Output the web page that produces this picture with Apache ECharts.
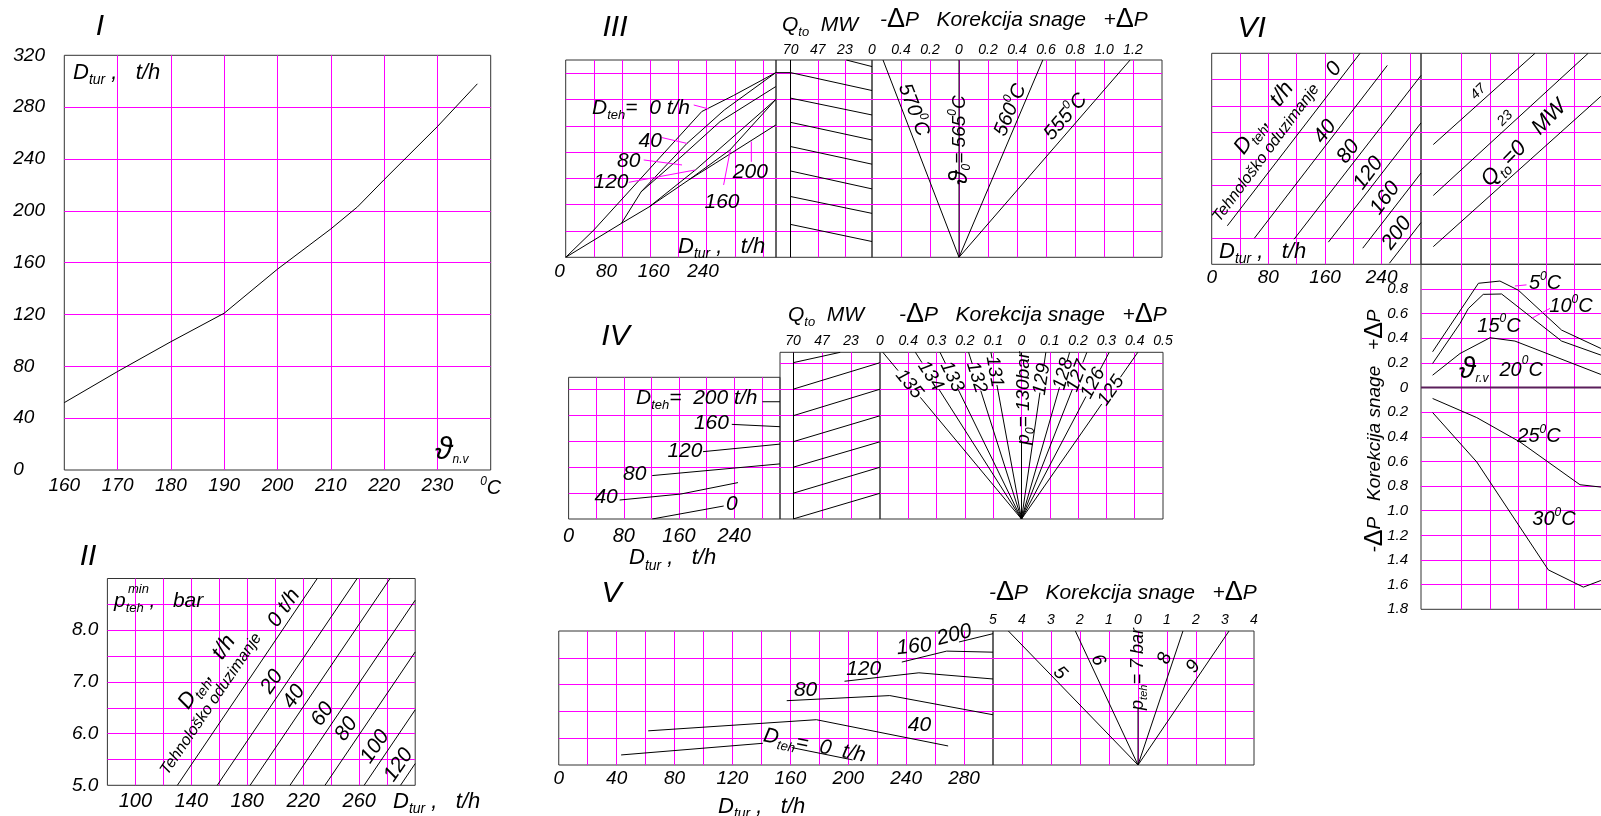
<!DOCTYPE html>
<html>
<head>
<meta charset="utf-8">
<script src="https://cdn.jsdelivr.net/npm/echarts@6/dist/echarts.min.js"></script>
<style>html,body{margin:0;padding:0;background:#fff}#main{width:1601px;height:816px}</style>
</head>
<body>
<div id="main"></div>
<script>
// ---- I : D_tur vs feed water temperature
var tempNV = [160, 170, 180, 190, 200, 210, 215, 220, 230, 237.5];
var flowTur = [52, 76, 99, 121, 155, 186, 203, 224, 265, 298];

// ---- II : p_teh min vs D_tur
var tehII = ['0 t/h', '20', '40', '60', '80', '100', '120'];
var iiStartX = [130, 158.5, 182, 210.5, 235.5, 263.5, 289.5];
var iiEndX = [230, 258.5, 282, 300, 300, 300, 300];
var iiEndP = [9, 9, 9, 8.58, 7.58, 6.46, 5.42];

// ---- III
var iiiTeh0 = [[0, 0], [40, 1.04], [193, 5.54], [238, 6.15], [298, 7.02]];
var iiiTeh40 = [[107, 2.49], [172, 4.33], [225, 5.6], [298, 7.02]];
var iiiTeh80 = [[79, 1.29], [107, 2.49], [165, 3.85], [219, 5.16], [298, 6.49]];
var iiiTeh120 = [[118.6, 1.92], [184, 3.32], [298, 6.0]];
var iiiTeh160 = [[174.5, 2.94], [233, 4.08], [298, 6.0]];
var iiiTeh200 = [[0, 0], [79, 1.29], [118.6, 1.92], [174.5, 2.94], [212, 3.57], [298, 5.03]];
var iiiQStart = [7.02, 6.05, 5.13, 4.21, 3.28, 2.31, 1.25];
var iiiQEnd = [6.34, 5.41, 4.46, 3.54, 2.6, 1.67, 0.6];
var iiiTemp = [570, 565, 560, 555];
var iiiTopDP = [-0.524, 0, 0.578, 1.18];

// ---- IV
var ivTeh0 = [[121.2, 0], [224.8, 0.5]];
var ivTeh40 = [[73.9, 0.73], [162.6, 0.96], [245.5, 1.4]];
var ivTeh80 = [[121.2, 1.67], [306.4, 2.12]];
var ivTeh120 = [[194.8, 2.59], [306.4, 2.88]];
var ivTeh160 = [[236.5, 3.64], [306.4, 3.55]];
var ivTeh200 = [[280.9, 4.51], [306.4, 4.51]];
var ivQStart = [0, 0.99, 1.99, 2.97, 3.97, 4.99];
var ivQEnd = [0.99, 1.99, 2.97, 3.97, 4.99, 6.01];
var ivPress = [135, 134, 133, 132, 131, 129, 128, 127, 126, 125];
var ivTopDP = [-0.49, -0.375, -0.288, -0.187, -0.108, 0.086, 0.17, 0.231, 0.31, 0.411];
var ivLabelAt = [0.81, 0.858, 0.854, 0.85, 0.884, 0.838, 0.87, 0.858, 0.815, 0.77];
var IV_TOP = 6.41;

// ---- V
var vTeh0a = [[43.1, 0.375], [141, 0.81]];
var vTeh0b = [[161, 0.65], [203, 0.19]];
var vTeh40 = [[61.8, 1.275], [178, 1.69], [269, 0.71]];
var vTeh80 = [[157.5, 2.4], [228.7, 2.59], [300, 1.875]];
var vTeh120 = [[197.4, 3.125], [248.8, 3.44], [300, 3.21]];
var vTeh160 = [[237, 3.84], [268, 4.25], [300, 4.21]];
var vTeh200 = [[276.5, 4.59], [300, 4.9]];
var vPress = [5, 6, 8, 9];
var vTopDP = [-4.47, -2.16, 1.55, 3.14];
var v7Top = 2.13;

// ---- VI
var viStart = [[22.1, 1.46], [60.3, 0.99], [116.3, 0.95], [164.8, 0.84], [213.3, 0.61], [251, 0.04]];
var viEnd = [[209.5, 8.0], [248, 7.54], [295.6, 7.16], [295.6, 5.36], [295.6, 3.46], [295.6, 1.58]];
var viQStart = [[0.435, 4.54], [0.435, 2.61], [0.435, 0.67]];
var viQEnd = [[4.03, 8.0], [5.91, 8.0], [6.36, 6.37]];
var viGridX = [0.435, 1.435, 2.435, 3.435, 4.435, 5.435, 6.435];
var vi5 = [[0.41, 0.29], [2.03, 0.846], [2.79, 0.864], [3.44, 0.79], [4.97, 0.466], [6.36, 0.317]];
var vi10 = [[0.41, 0.195], [1.38, 0.52], [1.67, 0.64], [2.2, 0.756], [2.85, 0.759], [4.97, 0.377], [6.36, 0.263]];
var vi15 = [[0.41, 0.1], [1.38, 0.276], [2.44, 0.404], [3.32, 0.377], [6.36, 0.106]];
var vi20 = [[0, 0], [7.07, 0]];
var vi25 = [[0.41, -0.089], [1.97, -0.244], [3.5, -0.442], [5.62, -0.789], [6.36, -0.808]];
var vi30 = [[0.41, -0.203], [1.97, -0.604], [4.5, -1.48], [5.74, -1.62], [6.36, -1.566]];

var FONT = '"Liberation Sans", Arial, sans-serif';
var MAG = '#ff00ff';

function grid(l, t, w, h) {
	return {left: l, top: t, width: w, height: h, show: true, borderColor: '#333', borderWidth: 1,
		backgroundColor: 'transparent', containLabel: false, outerBoundsMode: 'none'};
}
function ax(gi, min, max, interval, o) {
	o = o || {};
	var a = {type: 'value', gridIndex: gi, min: min, max: max, interval: interval,
		axisLine: {show: false}, axisTick: {show: false},
		splitLine: {show: true, showMinLine: false, showMaxLine: false, lineStyle: {color: MAG, width: 1}},
		axisLabel: {show: false}};
	if (o.inverse) a.inverse = true;
	if (o.position) a.position = o.position;
	if (o.fmt) {
		a.axisLabel = {show: true, formatter: o.fmt, margin: o.margin || 6, fontFamily: FONT,
			fontStyle: 'italic', fontSize: o.size || 16, color: '#000'};
		if (o.align) a.axisLabel.align = o.align;
		if (o.rich) a.axisLabel.rich = o.rich;
	}
	if (o.custom) a.axisTick.customValues = o.custom;
	return a;
}
function dpFmt(lo, hi) {
	return function(v) {
		if (v < lo || v > hi) return '';
		var a = Math.abs(v);
		return a < 1e-9 ? '0' : a.toFixed(1);
	};
}
function qFmt(v) { return v > 75 ? '' : String(Math.round(v)); }
function every80(v) { return (Math.round(v) % 80 === 0 && v <= 240) ? String(Math.round(v)) : ''; }
// panel III bottom labels drift left of their grid lines in the drawing
function shifted80(v) {
	var r = Math.round(v);
	if (r % 80 !== 0 || r > 240) return '';
	return '{p' + r + '|' + r + '}';
}
function padStyle(p) { return {padding: [0, p, 0, 0], fontSize: 19, fontStyle: 'italic', fontFamily: FONT, color: '#000'}; }

var grids = [
	grid(64.3, 55.3, 426.4, 414.7),     // 0 I
	grid(107.4, 578.5, 307.8, 206.8),   // 1 II
	grid(565.7, 60, 210.3, 197.3),      // 2 III D_tur
	grid(776, 60, 96, 197.3),           // 3 III Q_to
	grid(872, 60, 290, 197.3),          // 4 III dP
	grid(568.6, 377.3, 211.4, 141.7),   // 5 IV D_tur
	grid(780, 352.3, 100, 166.7),       // 6 IV Q_to
	grid(880, 352.3, 283, 166.7),       // 7 IV dP
	grid(558.75, 631, 434.25, 134),     // 8 V D_tur
	grid(993, 631, 261, 134),           // 9 V dP
	grid(1211.7, 53.3, 209.3, 211),     // 10 VI D_tur
	grid(1421, 53.3, 200, 211),         // 11 VI Q_to
	grid(1421, 264.3, 200, 345)         // 12 VI dP
];

var supRich = {
	u: {fontSize: 12, verticalAlign: 'top', lineHeight: 12, fontStyle: 'italic', fontFamily: FONT, color: '#000'},
	c: {fontSize: 20, lineHeight: 24, fontStyle: 'italic', fontFamily: FONT, color: '#000'}
};

var xAxes = [
	ax(0, 160, 240, 10, {fmt: function(v) { return v === 240 ? '{u|0}{c|C}' : String(v); }, size: 19, margin: 6, rich: supRich}),
	ax(1, 80, 300, 20, {fmt: function(v) { return [100, 140, 180, 220, 260].indexOf(v) >= 0 ? String(v) : ''; }, size: 20, margin: 6}),
	ax(2, 0, 298.3, 40, {fmt: shifted80, size: 19, margin: 5, align: 'right',
		rich: {p0: padStyle(1), p80: padStyle(5), p160: padStyle(9), p240: padStyle(16)}}),
	ax(3, 0, 82.6, 70 / 3, {inverse: true, position: 'top', fmt: qFmt, size: 14, margin: 3}),
	ax(4, -0.6, 1.4, 0.2, {position: 'top', fmt: dpFmt(-0.55, 1.3), size: 14, margin: 3}),
	ax(5, 0, 306.4, 40, {fmt: every80, size: 20, margin: 7}),
	ax(6, 0, 80.5, 70 / 3, {inverse: true, position: 'top', fmt: qFmt, size: 14, margin: 4}),
	ax(7, -0.5, 0.5, 0.1, {position: 'top', fmt: dpFmt(-0.45, 0.55), size: 14, margin: 4}),
	ax(8, 0, 300, 20, {fmt: function(v) { return (v % 40 === 0 && v <= 280) ? String(v) : ''; }, size: 19, margin: 4}),
	ax(9, -5, 4, 1, {position: 'top', fmt: function(v) { return String(Math.abs(Math.round(v))); }, size: 14, margin: 4}),
	ax(10, 0, 295.6, 40, {fmt: every80, size: 19, margin: 4}),
	ax(11, 0, 7.07, 1, {custom: viGridX}),
	ax(12, 0, 7.07, 1, {custom: viGridX})
];
var yAxes = [
	ax(0, 0, 320, 40, {fmt: function(v) { return String(v); }, size: 19, margin: 51, align: 'left'}),
	ax(1, 5, 9, 0.5, {fmt: function(v) { return (Math.abs(v - Math.round(v)) < 1e-6 && v < 8.5) ? v.toFixed(1) : ''; }, size: 19, margin: 9}),
	ax(2, 0, 7.5, 1), ax(3, 0, 7.5, 1), ax(4, 0, 7.5, 1),
	ax(5, 0, 5.45, 1), ax(6, 0, IV_TOP, 1), ax(7, 0, IV_TOP, 1),
	ax(8, 0, 5, 1), ax(9, 0, 5, 1),
	ax(10, 0, 8, 1), ax(11, 0, 8, 1),
	ax(12, -1.8, 1.0, 0.2, {fmt: dpFmt(-1.85, 0.95), size: 15, margin: 13})
];

var series = [];
function line(gi, pts, color, width, extra) {
	var s = {type: 'line', xAxisIndex: gi, yAxisIndex: gi, data: pts, symbol: 'none', silent: true,
		animation: false, lineStyle: {color: color || '#000', width: width || 1}, z: 5};
	if (extra) for (var k in extra) s[k] = extra[k];
	series.push(s);
}
var vmark = function(v) {
	return {markLine: {symbol: 'none', silent: true, animation: false, label: {show: false},
		lineStyle: {color: '#000', width: 1, type: 'solid'}, data: [{xAxis: v}]}};
};

// I
line(0, tempNV.map(function(t, i) { return [t, flowTur[i]]; }));
// II
iiStartX.forEach(function(x, i) { line(1, [[x, 5], [iiEndX[i], iiEndP[i]]]); });
// III
[iiiTeh0, iiiTeh40, iiiTeh80, iiiTeh120, iiiTeh160, iiiTeh200].forEach(function(d) { line(2, d); });
line(2, [[181.6, 5.79], [202.8, 5.64]], MAG);
line(2, [[136.6, 4.55], [172, 4.33]], MAG);
line(2, [[110.6, 3.7], [165, 3.51]], MAG);
line(2, [[89.4, 2.85], [183.8, 3.32]], MAG);
line(2, [[224, 2.75], [233.5, 4.08]], MAG);
line(2, [[263.3, 3.63], [263.3, 4.4]], MAG);
line(3, [[82.6, iiiQStart[0]], [70, iiiQStart[0]], [0, iiiQEnd[0]]], '#000', 1, vmark(70));
for (var i = 1; i < iiiQStart.length; i++) line(3, [[70, iiiQStart[i]], [0, iiiQEnd[i]]]);
line(3, [[22.1, 7.5], [0, 7.25]]);
iiiTopDP.forEach(function(t) { line(4, [[0, 0], [t, 7.5]]); });
// IV
[ivTeh0, ivTeh40, ivTeh80, ivTeh120, ivTeh160, ivTeh200].forEach(function(d) { line(5, d); });
line(6, [[70, ivQStart[0]], [0, ivQEnd[0]]], '#000', 1, vmark(70));
for (var j = 1; j < ivQStart.length; j++) line(6, [[70, ivQStart[j]], [0, ivQEnd[j]]]);
line(6, [[70, 6.01], [32, 6.41]]);
ivTopDP.forEach(function(t, i) {
	var f1 = ivLabelAt[i] - 0.08, f2 = ivLabelAt[i] + 0.08;
	line(7, [[0, 0], [t * f1, IV_TOP * f1]]);
	line(7, [[t * f2, IV_TOP * f2], [t, IV_TOP]]);
});
line(7, [[0, 0], [0, 3.0]]);
line(7, [[0, 6.28], [0, IV_TOP]]);
// V
[vTeh0a, vTeh0b, vTeh40, vTeh80, vTeh120, vTeh160, vTeh200].forEach(function(d) { line(8, d); });
vTopDP.forEach(function(t) { line(9, [[0, 0], [t, 5]]); });
line(9, [[0, 0], [0, v7Top]]);
// VI
viStart.forEach(function(p, i) { line(10, [p, viEnd[i]]); });
viQStart.forEach(function(p, i) { line(11, [p, viQEnd[i]]); });
[vi5, vi10, vi15, vi25, vi30].forEach(function(d) { line(12, d); });
line(12, vi20, '#5b1f5b', 2);
line(12, [[3.32, 0.824], [3.73, 0.833]], MAG);
line(12, [[3.91, 0.561], [4.56, 0.642]], MAG);

var chart = echarts.init(document.getElementById('main'), null, {renderer: 'canvas'});
chart.setOption({
	animation: false,
	backgroundColor: '#fff',
	grid: grids,
	xAxis: xAxes,
	yAxis: yAxes,
	series: series
});

// ---- text annotations
function tok(size, extra) {
	var o = {fontSize: size, fontStyle: 'italic', fontFamily: FONT, fill: '#000', color: '#000'};
	if (extra) for (var k in extra) o[k] = extra[k];
	return o;
}
function txt(x, y, text, size, opt) {
	opt = opt || {};
	var sm = Math.round(size * 0.62);
	return {type: 'text', x: x, y: y, rotation: opt.rot || 0, silent: true, z: 100,
		style: {text: text, fontSize: size, fontStyle: 'italic', fontFamily: FONT, fill: '#000',
			align: opt.align || 'center', verticalAlign: 'middle',
			textAlign: opt.align || 'center', textVerticalAlign: 'middle',
			rich: {
				m: tok(size, {lineHeight: Math.round(size * 1.3)}),
				s: tok(sm, {verticalAlign: 'bottom', lineHeight: sm}),
				u: tok(sm, {verticalAlign: 'top', lineHeight: sm}),
				d: tok(Math.round(size * 1.3), {fontStyle: 'normal'}),
				g: tok(Math.round(size * (opt.big || 1.35)), {})
			}}};
}
var KOR = '{m|-}{d|\u0394}{m|P   Korekcija snage   +}{d|\u0394}{m|P}';
var DTUR = '{m|D}{s|tur}{m| ,   t/h}';
var QTO = '{m|Q}{s|to}{m|  MW}';
var TEHNO = 'Tehnolo\u0161ko oduzimanje';
var R2 = 0.972, R6 = 0.93;
var texts = [
	// I
	txt(100, 27, 'I', 30),
	txt(73, 73, DTUR, 22, {align: 'left'}),
	txt(435, 450, '{g|\u03d1}{s|n.v}', 20, {align: 'left', big: 1.6}),
	// II
	txt(88, 557, 'II', 30),
	txt(114, 601, '{m|p}{s|teh}{m| ,   bar}', 21, {align: 'left'}),
	txt(128, 589, 'min', 13, {align: 'left'}),
	txt(284, 608, tehII[0], 21, {rot: R2}),
	txt(207, 672, '{m|D}{s|teh}{m|,   t/h}', 22, {rot: R2}),
	txt(211, 704, TEHNO, 16, {rot: R2}),
	txt(272, 681.7, tehII[1], 21, {rot: R2}),
	txt(293.9, 696.7, tehII[2], 21, {rot: R2}),
	txt(322.6, 714.3, tehII[3], 21, {rot: R2}),
	txt(346.3, 729, tehII[4], 21, {rot: R2}),
	txt(375, 746.7, tehII[5], 21, {rot: R2}),
	txt(398.6, 765, tehII[6], 21, {rot: R2}),
	txt(393, 801.7, DTUR, 22, {align: 'left'}),
	// III
	txt(615, 28, 'III', 30),
	txt(782, 25, QTO, 21, {align: 'left'}),
	txt(880, 20, KOR, 21, {align: 'left'}),
	txt(592, 108.3, '{m|D}{s|teh}{m|=  0 t/h}', 21, {align: 'left'}),
	txt(650.3, 141, '40', 21),
	txt(628.7, 161, '80', 21),
	txt(611, 181.7, '120', 21),
	txt(722, 201.7, '160', 21),
	txt(750.3, 172.3, '200', 21),
	txt(678, 246.7, DTUR, 22, {align: 'left'}),
	txt(913.5, 110, '{m|' + iiiTemp[0] + '}{u|0}{m|C}', 20, {rot: -1.2}),
	txt(960, 140, '{g|\u03d1}{s|0}{m|= ' + iiiTemp[1] + '}{u|0}{m|C}', 19, {rot: Math.PI / 2}),
	txt(1010.4, 110, '{m|' + iiiTemp[2] + '}{u|0}{m|C}', 20, {rot: 1.17}),
	txt(1065.7, 116.7, '{m|' + iiiTemp[3] + '}{u|0}{m|C}', 20, {rot: 0.857}),
	// IV
	txt(615.5, 336.7, 'IV', 30),
	txt(788, 315, QTO, 21, {align: 'left'}),
	txt(899, 315, KOR, 21, {align: 'left'}),
	txt(636, 398.3, '{m|D}{s|teh}{m|=  200 t/h}', 21, {align: 'left'}),
	txt(711.4, 423.3, '160', 21),
	txt(684.9, 451, '120', 21),
	txt(634.7, 474.3, '80', 21),
	txt(606.1, 497.3, '40', 21),
	txt(731.8, 504.3, '0', 21),
	txt(629, 558.3, DTUR, 22, {align: 'left'}),
	txt(1023.7, 398.3, '{m|p}{s|0}{m|= 130bar}', 19, {rot: Math.PI / 2}),
	// V
	txt(611.4, 593.3, 'V', 30),
	txt(989, 593, KOR, 21, {align: 'left'}),
	txt(814.5, 745.7, '{m|D}{s|teh}{m|=  0  t/h}', 21, {rot: -0.2}),
	txt(919.5, 725, '40', 21),
	txt(805.6, 690, '80', 21),
	txt(863.7, 669, '120', 21),
	txt(914.1, 646.7, '160', 21, {rot: 0.1}),
	txt(954.3, 635, '200', 21, {rot: 0.25}),
	txt(718, 806.7, DTUR, 22, {align: 'left'}),
	txt(1060, 673, String(vPress[0]), 19, {rot: -0.8}),
	txt(1098, 660, String(vPress[1]), 19, {rot: -1.13}),
	txt(1138.3, 669, '{m|p}{s|teh}{m|= 7 bar}', 18, {rot: Math.PI / 2}),
	txt(1165, 658.3, String(vPress[2]), 19, {rot: 1.25}),
	txt(1193.3, 666.7, String(vPress[3]), 19, {rot: 0.97}),
	// VI
	txt(1251.7, 28.3, 'VI', 30),
	txt(1264, 118, '{m|D}{s|teh}{m|,   t/h}', 22, {rot: R6}),
	txt(1266, 153, TEHNO, 16, {rot: R6}),
	txt(1334, 69, '0', 21, {rot: R6}),
	txt(1325, 131.7, '40', 21, {rot: R6}),
	txt(1348.3, 151.7, '80', 21, {rot: R6}),
	txt(1368.3, 173.3, '120', 21, {rot: R6}),
	txt(1385, 198.3, '160', 21, {rot: R6}),
	txt(1396.7, 233.3, '200', 21, {rot: R6}),
	txt(1219, 251.7, DTUR, 22, {align: 'left'}),
	txt(1478.3, 91.7, '47', 14, {rot: 0.78}),
	txt(1505, 118.3, '23', 14, {rot: 0.78}),
	txt(1524, 143.3, '{m|Q}{s|to}{m|=0   MW}', 22, {rot: 0.8}),
	txt(1545, 283.3, '{m|5}{u|0}{m|C}', 20),
	txt(1571, 306.7, '{m|10}{u|0}{m|C}', 20),
	txt(1499, 326, '{m|15}{u|0}{m|C}', 20),
	txt(1459, 370, '{g|\u03d1}{s|r.v}{m|  20}{u|0}{m|C}', 20, {align: 'left', big: 1.5}),
	txt(1539, 436.7, '{m|25}{u|0}{m|C}', 20),
	txt(1554, 519.3, '{m|30}{u|0}{m|C}', 20),
	txt(1375, 431, KOR, 19, {rot: Math.PI / 2})
];

// IV fan labels sit on their lines
var apex = chart.convertToPixel({gridIndex: 7}, [0, 0]);
ivPress.forEach(function(p, i) {
	var top = chart.convertToPixel({gridIndex: 7}, [ivTopDP[i], IV_TOP]);
	var f = ivLabelAt[i];
	var ang = Math.atan2(apex[1] - top[1], top[0] - apex[0]);
	if (ang > Math.PI / 2) ang -= Math.PI;
	texts.push(txt(apex[0] + (top[0] - apex[0]) * f, apex[1] + (top[1] - apex[1]) * f, String(p), 19, {rot: ang}));
});

chart.setOption({graphic: texts});

window.onresize = function() { chart.resize(); };
</script>
</body>
</html>
